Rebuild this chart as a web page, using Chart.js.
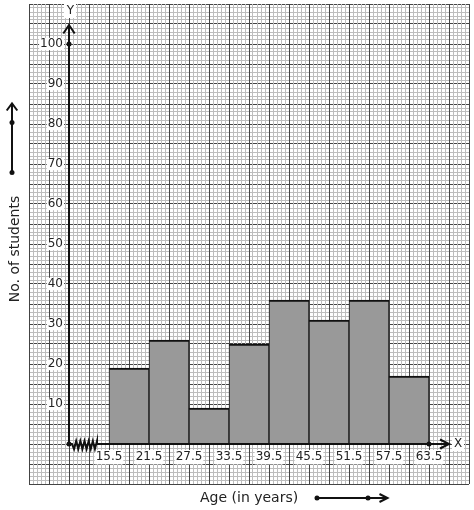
<!DOCTYPE html>
<html>
<head>
<meta charset="utf-8">
<title>Histogram - Age of students</title>
<script src="https://cdn.jsdelivr.net/npm/chart.js@4.4.1/dist/chart.umd.min.js"></script>
<style>
  html, body { margin: 0; padding: 0; background: #fff; }
  #wrap { width: 474px; height: 510px; }
</style>
</head>
<body>
<div id="wrap"><canvas id="chart" width="474" height="510"></canvas></div>
<script>
// class boundaries (age in years) and frequencies
const binEdges = [15.5, 21.5, 27.5, 33.5, 39.5, 45.5, 51.5, 57.5, 63.5];
const students = [19, 26, 9, 25, 36, 31, 36, 17];
const yTicks = [10, 20, 30, 40, 50, 60, 70, 80, 90, 100];
const xTitle = 'Age (in years)';
const yTitle = 'No. of students';

// graph paper: 4px small squares, 20px big squares
const X_RANGE = [3.5, 69.5];
const Y_RANGE = [-10, 110];
const ORIGIN_X = 9.5; // y axis sits here, x axis is broken (kink) up to 15.5
const Y_LABEL_GAP = 0.9; // y tick labels sit a little left of the axis
const MINOR = '#bdbdbd';
const MAJOR = '#444444';
const INK = '#111111';

Chart.defaults.font.family = "'DejaVu Sans', sans-serif";
Chart.defaults.color = '#222';

function steps(n, every) {
  const out = [];
  for (let i = 0; i <= n; i += every) out.push({ value: i });
  return out;
}

// no label overhang padding, so the chart area stays where the layout puts it
function noPad(s) {
  s.paddingTop = 0;
  s.paddingBottom = 0;
  s.paddingLeft = 0;
  s.paddingRight = 0;
}

function gridScale(pos, max, every, color, z) {
  return {
    type: 'linear',
    position: pos,
    offset: false,
    min: 0,
    max: max,
    afterBuildTicks: (s) => { s.ticks = steps(max, every); },
    afterFit: noPad,
    ticks: { display: false },
    border: { display: false },
    grid: { color: color, lineWidth: 1, drawTicks: false, offset: false, z: z },
  };
}

function dot(ctx, x, y, r) {
  ctx.beginPath();
  ctx.arc(x, y, r, 0, Math.PI * 2);
  ctx.fill();
}

function chevron(ctx, pts) {
  ctx.beginPath();
  ctx.moveTo(pts[0][0], pts[0][1]);
  ctx.lineTo(pts[1][0], pts[1][1]);
  ctx.lineTo(pts[2][0], pts[2][1]);
  ctx.stroke();
}

const paperPlugin = {
  id: 'paper',
  afterDraw(chart) {
    const ctx = chart.ctx;
    const xs = chart.scales.x;
    const ys = chart.scales.y;
    const ox = xs.getPixelForValue(ORIGIN_X);
    const oy = ys.getPixelForValue(0);
    const topTick = ys.getPixelForValue(yTicks[yTicks.length - 1]);
    const lastEdge = xs.getPixelForValue(binEdges[binEdges.length - 1]);
    const yTip = topTick - 19;
    const xTip = lastEdge + 20;

    ctx.save();
    ctx.strokeStyle = INK;
    ctx.fillStyle = INK;
    ctx.lineWidth = 2;
    ctx.lineJoin = 'miter';

    // y axis
    ctx.beginPath();
    ctx.moveTo(ox, oy);
    ctx.lineTo(ox, yTip);
    ctx.stroke();
    chevron(ctx, [[ox - 5.7, yTip + 8.5], [ox, yTip], [ox + 5.7, yTip + 8.5]]);
    dot(ctx, ox, topTick, 2.5);

    // x axis with kink
    const k0 = ox + 3, k1 = ox + 28;
    ctx.beginPath();
    ctx.moveTo(ox, oy);
    ctx.lineTo(k0, oy);
    const n = 12;
    for (let i = 1; i <= n; i++) {
      const px = k0 + (k1 - k0) * i / n;
      ctx.lineTo(px, i % 2 ? oy + 5 : oy - 3);
    }
    ctx.lineTo(k1, oy);
    ctx.lineTo(xTip, oy);
    ctx.stroke();
    chevron(ctx, [[xTip - 9, oy - 4.5], [xTip, oy], [xTip - 9, oy + 4.5]]);
    dot(ctx, ox, oy, 2.5);
    dot(ctx, lastEdge, oy, 2.5);

    // axis letters on white patches
    ctx.font = "12px 'DejaVu Sans'";
    ctx.textAlign = 'center';
    ctx.textBaseline = 'middle';
    ctx.fillStyle = '#fff';
    ctx.fillRect(ox - 5, 3, 12, 15);
    ctx.fillRect(xTip + 3, oy - 7, 12, 14);
    ctx.fillStyle = '#222';
    ctx.fillText('Y', ox + 1.5, 11);
    ctx.fillText('X', xTip + 9, oy);

    // axis titles
    ctx.font = "14px 'DejaVu Sans'";
    ctx.textBaseline = 'alphabetic';
    ctx.textAlign = 'left';
    ctx.fillText(xTitle, 200, 501.5);
    ctx.save();
    ctx.translate(18.5, 249);
    ctx.rotate(-Math.PI / 2);
    ctx.textAlign = 'center';
    ctx.fillText(yTitle, 0, 0);
    ctx.restore();

    // direction arrows next to titles
    ctx.fillStyle = INK;
    ctx.beginPath();
    ctx.moveTo(12, 172.5);
    ctx.lineTo(12, 104);
    ctx.stroke();
    chevron(ctx, [[6.7, 110.5], [12, 103.5], [17.3, 110.5]]);
    dot(ctx, 12, 122.5, 2.5);
    dot(ctx, 12, 172.5, 2.5);

    ctx.beginPath();
    ctx.moveTo(317, 498);
    ctx.lineTo(387, 498);
    ctx.stroke();
    chevron(ctx, [[379.5, 494], [387.5, 498], [379.5, 502]]);
    dot(ctx, 317, 498, 2.5);
    dot(ctx, 368, 498, 2.5);

    ctx.restore();
  },
};

const bars = students.map((v, i) => ({ x: (binEdges[i] + binEdges[i + 1]) / 2, y: v }));

new Chart(document.getElementById('chart'), {
  type: 'bar',
  data: {
    datasets: [{
      data: bars,
      xAxisID: 'x',
      yAxisID: 'y',
      backgroundColor: '#999999',
      borderColor: INK,
      borderWidth: { top: 2, left: 1, right: 1, bottom: 0 },
      barPercentage: 1,
      categoryPercentage: 1,
    }],
  },
  options: {
    responsive: false,
    animation: false,
    layout: { padding: { left: 29, top: 4, right: 5, bottom: 26 } },
    plugins: { legend: { display: false }, tooltip: { enabled: false } },
    scales: {
      x: {
        type: 'linear',
        position: { y: 0 },
        offset: false,
        min: X_RANGE[0],
        max: X_RANGE[1],
        afterBuildTicks: (s) => { s.ticks = binEdges.map((v) => ({ value: v })); },
        afterFit: noPad,
        grid: { display: false, drawTicks: false, offset: false },
        border: { display: false },
        ticks: {
          padding: 6,
          font: { size: 12 },
          color: '#222',
          showLabelBackdrop: true,
          backdropColor: '#fff',
          backdropPadding: { top: 0, bottom: 0, left: 1, right: 1 },
          callback: (v) => v.toFixed(1),
          maxRotation: 0,
          autoSkip: false,
          z: 1,
        },
      },
      y: {
        type: 'linear',
        position: { x: ORIGIN_X - Y_LABEL_GAP },
        min: Y_RANGE[0],
        max: Y_RANGE[1],
        afterBuildTicks: (s) => { s.ticks = yTicks.map((v) => ({ value: v })); },
        afterFit: noPad,
        grid: { display: false, drawTicks: false },
        border: { display: false },
        ticks: {
          padding: 0,
          font: { size: 12 },
          color: '#222',
          showLabelBackdrop: true,
          backdropColor: '#fff',
          backdropPadding: { top: -1, bottom: -1, left: 1, right: 1 },
          autoSkip: false,
          z: 1,
        },
      },
      gyMinor: gridScale('left', 120, 1, MINOR, -4),
      gyMajor: gridScale('left', 120, 5, MAJOR, -3),
      gxMinor: gridScale('bottom', 110, 1, MINOR, -2),
      gxMajor: gridScale('bottom', 110, 5, MAJOR, -1),
    },
  },
  plugins: [paperPlugin],
});
</script>
</body>
</html>
